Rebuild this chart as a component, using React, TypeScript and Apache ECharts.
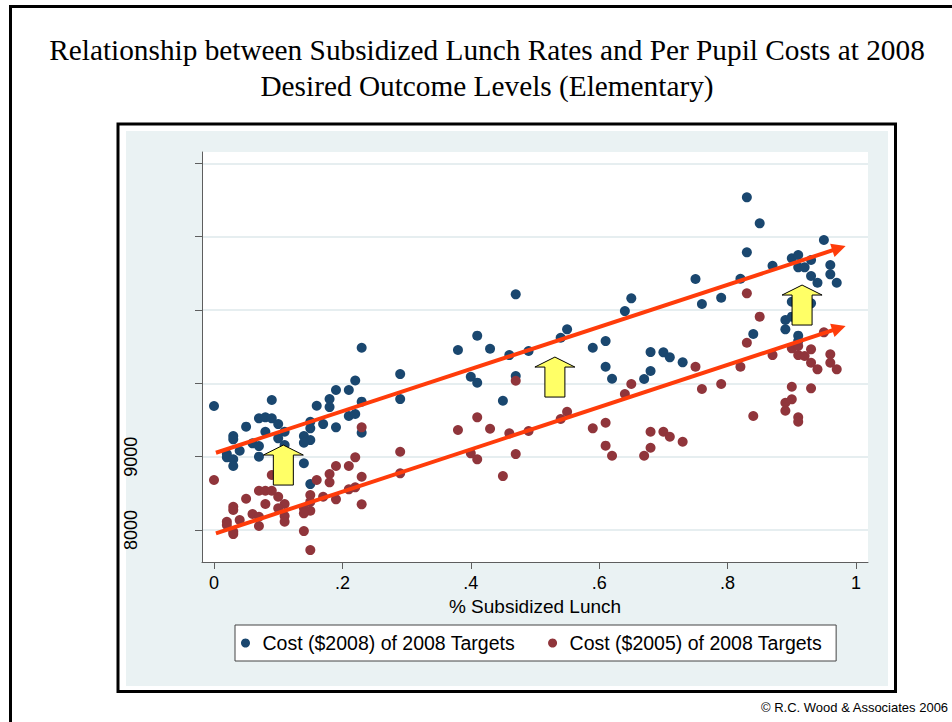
import React, { useEffect, useRef } from 'react';
import * as echarts from 'echarts';

// % subsidized lunch (shared by both series)
const lunchRate = [
  0.00, 0.09, 0.19, 0.21, 0.22, 0.18, 0.16, 0.18, 0.23, 0.29,
  0.29, 0.23, 0.05, 0.07, 0.08, 0.09, 0.10, 0.08, 0.11, 0.03,
  0.03, 0.10, 0.15, 0.15, 0.17, 0.19, 0.21, 0.22, 0.23, 0.14,
  0.15, 0.14, 0.06, 0.07, 0.11, 0.11, 0.04, 0.02, 0.02, 0.03,
  0.07, 0.03, 0.14, 0.15, 0.38, 0.41, 0.43, 0.47, 0.46, 0.49,
  0.40, 0.41, 0.47, 0.45, 0.54, 0.55, 0.59, 0.61, 0.61, 0.62,
  0.64, 0.65, 0.68, 0.68, 0.67, 0.70, 0.71, 0.73, 0.83, 0.85,
  0.83, 0.95, 0.75, 0.82, 0.87, 0.90, 0.91, 0.93, 0.91, 0.92,
  0.96, 0.96, 0.93, 0.94, 0.97, 0.76, 0.79, 0.90, 0.93, 0.89,
  0.90, 0.89, 0.84, 0.91, 0.91,
];

// Cost ($2008) of 2008 targets
const cost2008 = [
  9691, 9773, 9909, 9909, 10039, 9786, 9695, 9677, 9750, 9786,
  10127, 10486, 9409, 9523, 9537, 9523, 9445, 9340, 9340, 9282,
  9237, 9250, 9477, 9387, 9445, 9400, 9555, 9582, 9327, 9282,
  9227, 9190, 9182, 9145, 9159, 9055, 9081, 9036, 8991, 8964,
  9000, 8873, 8910, 8627, 10455, 10650, 10472, 11214, 10386, 10441,
  10090, 10009, 10100, 9763, 10622, 10737, 10486, 10577, 10227, 10063,
  10986, 11159, 10427, 10168, 10059, 10423, 10355, 10287, 12537, 12182,
  11787, 11955, 11423, 11427, 11604, 11705, 11750, 11682, 11582, 11582,
  11614, 11487, 11464, 11372, 11372, 11082, 11168, 11113, 11091, 10864,
  10909, 10737, 10673, 10650, 10577,
];

// Cost ($2005) of 2008 targets
const cost2005 = [
  8682, 8750, 8873, 8873, 8991, 8764, 8682, 8650, 8727, 8773,
  9068, 9400, 8427, 8536, 8536, 8536, 8454, 8355, 8355, 8318,
  8273, 8296, 8477, 8386, 8454, 8418, 8555, 8582, 8350, 8296,
  8263, 8228, 8218, 8181, 8191, 8113, 8136, 8113, 8068, 7977,
  8055, 7945, 7986, 7727, 9364, 9537, 9381, 10036, 9319, 9350,
  9046, 8964, 9036, 8736, 9514, 9613, 9387, 9463, 9150, 9013,
  9855, 9991, 9340, 9122, 9013, 9340, 9272, 9204, 11228, 10909,
  10554, 10696, 10227, 10227, 10386, 10478, 10509, 10464, 10386, 10373,
  10396, 10281, 10281, 10191, 10191, 9923, 9991, 9954, 9932, 9736,
  9782, 9627, 9555, 9537, 9477,
];

const seriesNames = ['Cost ($2008) of 2008 Targets', 'Cost ($2005) of 2008 Targets'];
const xTicks = [0, 0.2, 0.4, 0.6, 0.8, 1];
const yTicks = [8000, 9000, 10000, 11000, 12000, 13000];
const yLabeled = [8000, 9000];
const xRange = [-0.0187, 1.0187];
const yRange = [7564, 13155];

// Annotations (data coordinates)
const trend2008 = [[0.003, 9054], [0.9735, 11843]];
const trend2005 = [[0.003, 7955], [0.9735, 10752]];
const upArrows = [[0.108, 8886], [0.531, 10086], [0.916, 11068]];

const titleLines = [
  'Relationship between Subsidized Lunch Rates and Per Pupil Costs at 2008',
  'Desired Outcome Levels (Elementary)',
];
const credit = '\u00A9 R.C. Wood & Associates 2006';

const SANS = '"Liberation Sans", Arial, sans-serif';
const SERIF = '"Liberation Serif", "Times New Roman", serif';

export default function App() {
  const ref = useRef<HTMLDivElement>(null);

  useEffect(() => {
    document.body.style.margin = '0';
    if (!ref.current) return;
    const chart = echarts.init(ref.current, undefined, { renderer: 'svg' });

    const axisColor = '#5e5e5e';
    const fmtX = (v: number) => {
      const hit = xTicks.find((t) => Math.abs(t - v) < 1e-6);
      if (hit === undefined) return '';
      if (hit === 0) return '0';
      if (hit === 1) return '1';
      return hit.toFixed(1).replace(/^0/, '');
    };
    const fmtY = (v: number) => (yLabeled.includes(v) ? String(v) : '');

    chart.setOption({
      animation: false,
      backgroundColor: '#fff',
      graphic: {
        elements: [
          {
            type: 'rect', silent: true, z: -30,
            shape: { x: 10.5, y: 6.5, width: 970, height: 740 },
            style: { fill: '#fff', stroke: '#000', lineWidth: 3 },
          },
          {
            type: 'rect', silent: true, z: -29,
            shape: { x: 118, y: 124, width: 777.5, height: 567.5 },
            style: { fill: '#fff', stroke: '#000', lineWidth: 3 },
          },
          {
            type: 'rect', silent: true, z: -28,
            shape: { x: 126, y: 131, width: 762, height: 555 },
            style: { fill: '#eaf2f3' },
          },
          {
            type: 'text', silent: true, z: 10, x: 487, y: 68,
            style: {
              text: titleLines.join('\n'),
              fill: '#000', font: `29.3px ${SERIF}`,
              textAlign: 'center', textVerticalAlign: 'middle', lineHeight: 36,
            },
          },
          {
            type: 'text', silent: true, z: 10, x: 761, y: 707,
            style: {
              text: credit, fill: '#000', font: `13px ${SANS}`,
              textAlign: 'left', textVerticalAlign: 'middle',
            },
          },
        ],
      },
      grid: {
        left: 202, top: 152, width: 666, height: 410,
        show: true, backgroundColor: '#fff', borderWidth: 0,
        containLabel: false,
      },
      legend: {
        data: seriesNames.map((n) => ({ name: n, icon: 'circle' })),
        left: 235, top: 625, orient: 'horizontal',
        itemWidth: 24, itemHeight: 9, itemGap: 33,
        padding: [8, 14, 8, 6],
        backgroundColor: '#fff', borderColor: '#444', borderWidth: 1, borderRadius: 0,
        selectedMode: false,
        textStyle: { fontFamily: SANS, fontSize: 19.5, color: '#000', lineHeight: 20 },
      },
      xAxis: {
        type: 'value', min: xRange[0], max: xRange[1],
        axisLine: { show: true, onZero: false, lineStyle: { color: axisColor, width: 1 } },
        axisTick: { show: true, length: 7, customValues: xTicks, lineStyle: { color: axisColor } },
        axisLabel: {
          customValues: xTicks, margin: 12, fontSize: 18, fontFamily: SANS, color: '#000',
          formatter: fmtX, showMinLabel: true, showMaxLabel: true,
        },
        splitLine: { show: false },
        name: '% Subsidized Lunch', nameLocation: 'middle', nameGap: 27,
        nameTextStyle: { fontFamily: SANS, fontSize: 19, color: '#000' },
      },
      yAxis: {
        type: 'value', min: yRange[0], max: yRange[1],
        axisLine: { show: true, onZero: false, lineStyle: { color: axisColor, width: 1 } },
        axisTick: { show: true, length: 7, customValues: yTicks, lineStyle: { color: axisColor } },
        axisLabel: {
          customValues: yLabeled, rotate: 90, margin: 62, fontSize: 18, fontFamily: SANS,
          color: '#000', formatter: fmtY,
        },
        splitLine: { show: true, lineStyle: { color: '#e6eef0', width: 2 } },
      },
      series: [
        {
          type: 'scatter', name: seriesNames[0], z: 3,
          data: lunchRate.map((x, i) => [x, cost2008[i]]),
          symbol: 'circle', symbolSize: 10,
          itemStyle: { color: '#1a476f', opacity: 1 },
        },
        {
          type: 'scatter', name: seriesNames[1], z: 3,
          data: lunchRate.map((x, i) => [x, cost2005[i]]),
          symbol: 'circle', symbolSize: 10,
          itemStyle: { color: '#90353b', opacity: 1 },
        },
        {
          type: 'scatter', name: 'annotations', z: 6, silent: true,
          data: upArrows,
          symbol: 'path://M20,0 L40,10 L30,10 L30,40 L10,40 L10,10 L0,10 Z',
          symbolSize: [40, 40],
          itemStyle: { color: '#ffff66', borderColor: '#000', borderWidth: 1, opacity: 1 },
          markLine: {
            silent: true,
            symbol: ['none', 'triangle'],
            symbolSize: 14,
            label: { show: false },
            lineStyle: { color: '#ff3c0a', width: 4, type: 'solid', opacity: 1 },
            data: [
              [{ coord: trend2008[0] }, { coord: trend2008[1] }],
              [{ coord: trend2005[0] }, { coord: trend2005[1] }],
            ],
          },
        },
      ],
    });

    return () => chart.dispose();
  }, []);

  return <div ref={ref} style={{ width: 952, height: 722 }} />;
}
